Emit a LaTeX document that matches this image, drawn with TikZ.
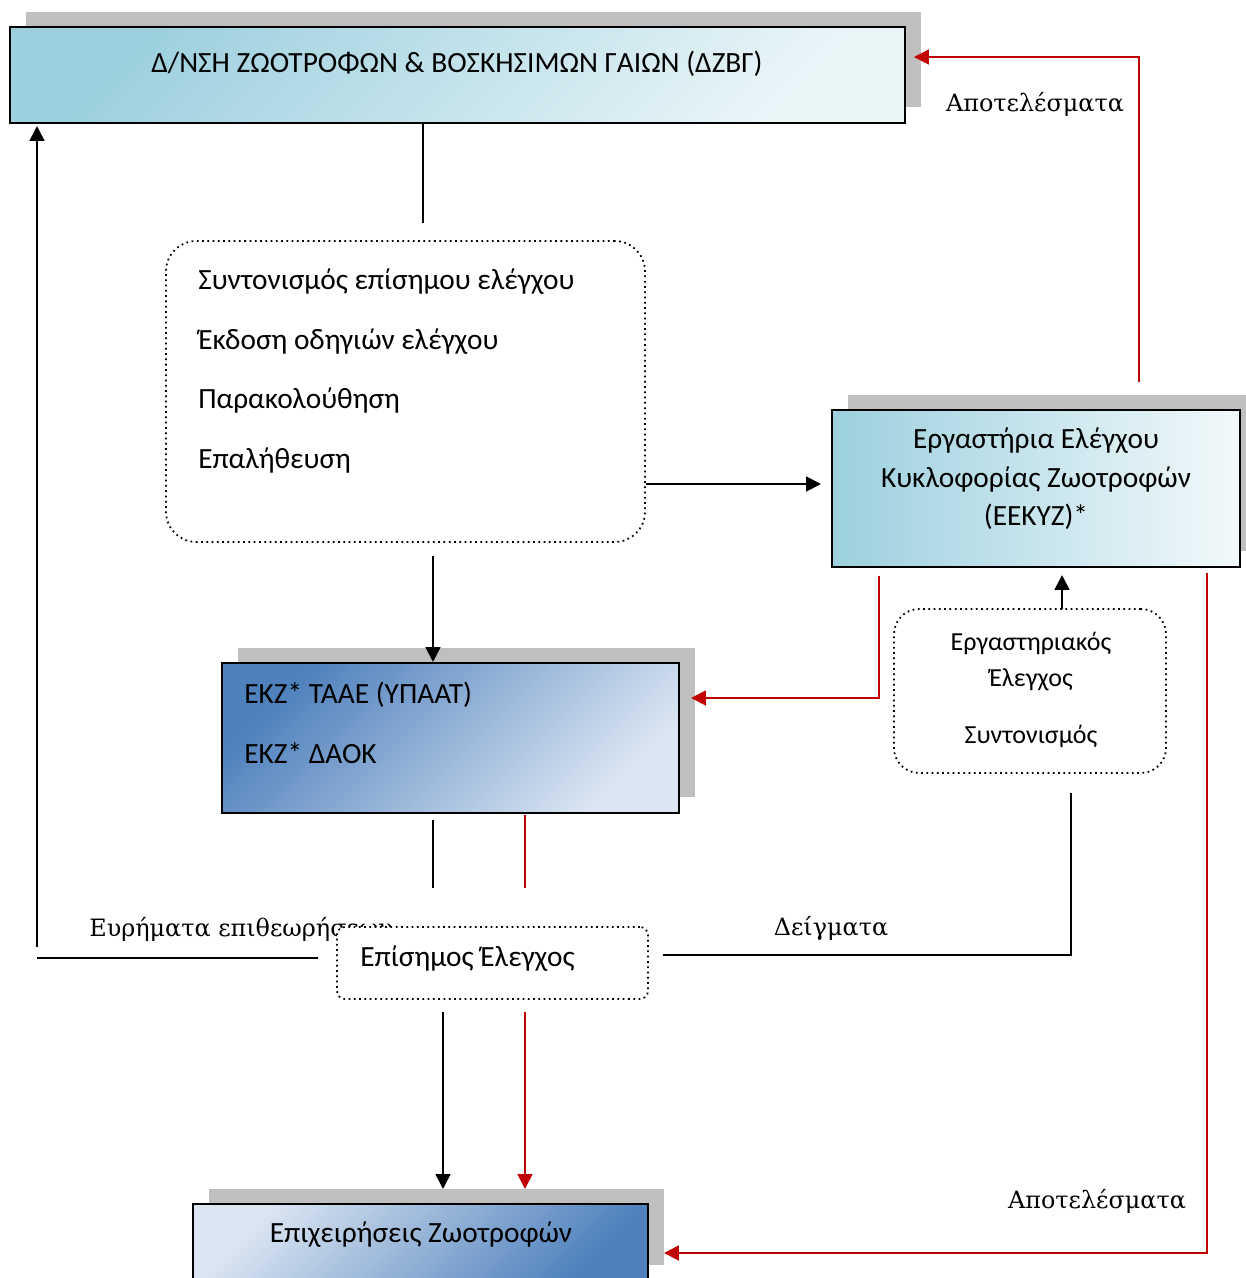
\documentclass[tikz,border=0pt]{standalone}
\usepackage{fontspec}
\setmainfont{Carlito}
\newfontfamily\grserif{DejaVu Serif}
\usetikzlibrary{arrows.meta,shadows}
\definecolor{redline}{HTML}{C00000}
\definecolor{shadowgray}{HTML}{BFBFBF}
\definecolor{tealdark}{HTML}{9CD0DE}
\definecolor{teallight}{HTML}{EAF5F8}
\definecolor{bluedark}{HTML}{4F81BD}
\definecolor{bluelight}{HTML}{DCE6F2}
\tikzset{
	box/.style={draw,line width=1.2pt,inner sep=0pt,
	general shadow={fill=shadowgray,shadow xshift=0.32cm,shadow yshift=0.31cm}},
	dotbox/.style={draw,dotted,line width=1pt,fill=white,inner sep=0pt},
	txt/.style={inner sep=0pt,font=\fontsize{16.7}{34}\selectfont},
	lbl/.style={inner sep=0pt,font=\grserif\fontsize{13.6}{16}\selectfont},
	link/.style={line width=1.1pt},
	arr/.style={link,-{Triangle[length=8.5pt,width=8.5pt]}},
	redarr/.style={arr,draw=redline},
	redlink/.style={link,draw=redline}
}
\begin{document}
\begin{tikzpicture}[x=0.02cm,y=-0.02cm]
	\useasboundingbox (0,0) rectangle (1245,1278);
	\node[box,minimum width=17.9cm,minimum height=1.92cm,top color=tealdark,bottom color=teallight,shading angle=45] (dzbg) at (457.5,75) {};
	\node[txt] (dzbgtxt) at (457,64) {Δ/ΝΣΗ ΖΩΟΤΡΟΦΩΝ \& ΒΟΣΚΗΣΙΜΩΝ ΓΑΙΩΝ (ΔΖΒΓ)};
	\node[box,minimum width=8.16cm,minimum height=3.14cm,left color=tealdark,right color=teallight!60!white] (eekyz) at (1036,488.5) {};
	\node[txt,align=center,font=\fontsize{16.7}{22}\selectfont] (eekyztxt) at (1036,479) {Εργαστήρια Ελέγχου\\Κυκλοφορίας Ζωοτροφών\\(ΕΕΚΥΖ)*};
	\node[box,minimum width=9.14cm,minimum height=3cm,top color=bluedark,bottom color=bluelight,shading angle=45] (ekz) at (450.5,738) {};
	\node[txt,align=left,anchor=west] (ekztxt) at (244,723) {ΕΚΖ* ΤΑΑΕ (ΥΠΑΑΤ)\\ΕΚΖ* ΔΑΟΚ};
	\node[box,minimum width=9.1cm,minimum height=1.52cm,top color=bluelight,bottom color=bluedark,shading angle=45] (firms) at (420.5,1242) {};
	\node[txt] (firmstxt) at (421,1235) {Επιχειρήσεις Ζωοτροφών};
	\node[dotbox,rounded corners=0.6cm,minimum width=9.58cm,minimum height=6.02cm] (tasks) at (405.5,391.5) {};
	\node[txt,align=left,anchor=west] (taskstxt) at (198,371) {Συντονισμός επίσημου ελέγχου\\Έκδοση οδηγιών ελέγχου\\Παρακολούθηση\\Επαλήθευση};
	\node[dotbox,rounded corners=0.5cm,minimum width=5.44cm,minimum height=3.28cm] (labctl) at (1030,691) {};
	\node[txt,align=center,font=\fontsize{14.8}{20.5}\selectfont] (labctltxt) at (1031,662) {Εργαστηριακός\\Έλεγχος};
	\node[txt,font=\fontsize{14.8}{18}\selectfont] (coordtxt) at (1031,736) {Συντονισμός};
	\node[lbl] (res1) at (1035,104) {Αποτελέσματα};
	\node[lbl] (res2) at (1097,1201) {Αποτελέσματα};
	\node[lbl] (samples) at (831,928) {Δείγματα};
	\node[lbl,anchor=west] (findings) at (89,929) {Ευρήματα επιθεωρήσεων};
	\node[dotbox,rounded corners=0.16cm,minimum width=6.22cm,minimum height=1.44cm] (official) at (492.5,963) {};
	\node[txt,anchor=west] (officialtxt) at (360,959) {Επίσημος Έλεγχος};
	\coordinate (c1) at (423,223);
	\coordinate (k1) at (433,556);
	\coordinate (r1) at (1139,382);
	\coordinate (r2) at (1139,57);
	\coordinate (r3) at (879,576);
	\coordinate (r4) at (879,698);
	\coordinate (r5) at (1207,573);
	\coordinate (r6) at (1207,1253);
	\coordinate (l1) at (1062,609);
	\coordinate (d1) at (1071,793);
	\coordinate (d2) at (1071,955);
	\coordinate (e1) at (433,820);
	\coordinate (e2) at (433,888);
	\coordinate (e3) at (525,815);
	\coordinate (e4) at (525,888);
	\coordinate (o1) at (443,1012);
	\coordinate (o2) at (525,1012);
	\coordinate (f1) at (318,958);
	\coordinate (f2) at (37,958);
	\coordinate (f3) at (37,947);
	\draw[link] (c1 |- dzbg.south) -- (c1);
	\draw[arr] (tasks.east |- 0,484) -- ([xshift=-0.2cm]eekyz.west |- 0,484);
	\draw[arr] (k1) -- (k1 |- ekz.north);
	\draw[redarr] (r1) -- (r2) -- ([xshift=0.16cm]dzbg.east |- r2);
	\draw[redarr] (r3) -- (r4) -- ([xshift=0.22cm]ekz.east |- r4);
	\draw[arr] (l1) -- ([yshift=-0.14cm]eekyz.south -| l1);
	\draw[link] (d1) -- (d2) -- ([xshift=0.28cm]official.east |- d2);
	\draw[link] (e1) -- (e2);
	\draw[redlink] (e3) -- (e4);
	\draw[arr] (o1) -- ([yshift=0.28cm]firms.north -| o1);
	\draw[redarr] (o2) -- ([yshift=0.28cm]firms.north -| o2);
	\draw[link] (f1) -- (f2);
	\draw[arr] (f3) -- ([yshift=-0.04cm]dzbg.south -| f3);
	\draw[redarr] (r5) -- (r6) -- ([xshift=0.3cm]firms.east |- r6);
\end{tikzpicture}
\end{document}
